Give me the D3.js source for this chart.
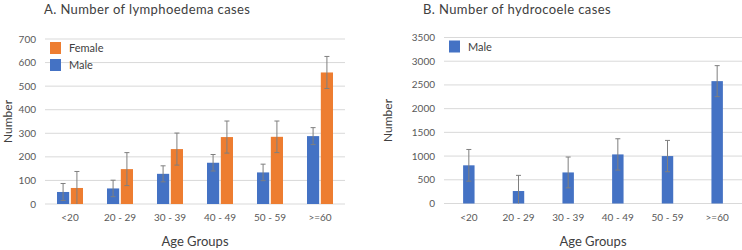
<!DOCTYPE html>
<meta charset="utf-8">
<script src="https://d3js.org/d3.v7.js"></script>
<style>
  body { margin: 0; background: #fff; }
  text { font-family: Lato, "Open Sans", sans-serif; }
</style>
<div id="chart"></div>
<script>
// age groups shared by both panels
var ageGroups = ["<20", "20 - 29", "30 - 39", "40 - 49", "50 - 59", ">=60"]

// panel A: lymphoedema
var lymphMale = [51, 66, 128, 175, 134, 288]
var lymphMaleErr = [36, 35, 34, 35, 35, 36]
var lymphFemale = [68, 148, 233, 284, 285, 558]
var lymphFemaleErr = [70, 70, 68, 68, 67, 68]
var lymphTicks = [0, 100, 200, 300, 400, 500, 600, 700]

// panel B: hydrocoele
var hydroMale = [805, 263, 655, 1035, 1000, 2580]
var hydroMaleErr = [334, 330, 325, 330, 330, 327]
var hydroTicks = [0, 500, 1000, 1500, 2000, 2500, 3000, 3500]

const blue = "#4472C4", orange = "#ED7D31"

const svg = d3.select("#chart").append("svg")
  .attr("width", 742).attr("height", 250)

function panel(opts) {
  const g = svg.append("g")
  const x = d3.scaleBand().domain(ageGroups).range([opts.left, opts.right])
  const y = d3.scaleLinear().domain([0, d3.max(opts.ticks)]).range([opts.bottom, opts.top])

  // gridlines
  g.selectAll(".grid").data(opts.ticks).join("line")
    .attr("x1", opts.left).attr("x2", opts.right)
    .attr("y1", d => y(d)).attr("y2", d => y(d))
    .attr("stroke", "#d9d9d9").attr("stroke-width", 1)

  // y tick labels
  g.selectAll(".ytick").data(opts.ticks).join("text")
    .attr("x", opts.left - 9).attr("y", d => y(d) + 3.5)
    .attr("text-anchor", "end").attr("font-size", 10).attr("fill", "#595959")
    .text(d => d)

  // x tick labels
  g.selectAll(".xtick").data(ageGroups).join("text")
    .attr("x", d => x(d) + x.bandwidth() / 2).attr("y", opts.bottom + 17)
    .attr("text-anchor", "middle").attr("font-size", 10).attr("fill", "#595959")
    .text(d => d)

  // sub-band for series inside each group
  const names = opts.series.map(s => s.name)
  const bw = x.bandwidth()
  const groupW = opts.series.length * 13
  const xs = d3.scaleBand().domain(names)
    .range([bw / 2 - groupW / 2, bw / 2 + groupW / 2]).paddingInner(0.12)

  opts.series.forEach(s => {
    const sg = g.append("g")
    sg.selectAll("rect").data(s.values).join("rect")
      .attr("x", (d, i) => x(ageGroups[i]) + xs(s.name))
      .attr("width", xs.bandwidth())
      .attr("y", d => y(d))
      .attr("height", d => y(0) - y(d))
      .attr("fill", s.color)
    // error bars
    s.values.forEach((v, i) => {
      const cx = x(ageGroups[i]) + xs(s.name) + xs.bandwidth() / 2
      const lo = Math.max(0, v - s.err[i]), hi = v + s.err[i]
      sg.append("line").attr("x1", cx).attr("x2", cx)
        .attr("y1", y(lo)).attr("y2", y(hi))
        .attr("stroke", "#7f7f7f").attr("stroke-width", 1)
      ;[lo, hi].forEach(e => {
        if (e === 0) return
        sg.append("line").attr("x1", cx - 2.5).attr("x2", cx + 2.5)
          .attr("y1", y(e)).attr("y2", y(e))
          .attr("stroke", "#7f7f7f").attr("stroke-width", 1)
      })
    })
  })

  // legend
  opts.legend.forEach((s, i) => {
    const ly = opts.top + 3 + i * 17
    g.append("rect").attr("x", opts.left + 5).attr("y", ly)
      .attr("width", 11).attr("height", 12).attr("fill", s.color)
    g.append("text").attr("x", opts.left + 24).attr("y", ly + 10)
      .attr("font-size", 11).attr("fill", "#404040").text(s.name)
  })

  // titles
  g.append("text").attr("x", opts.titleX).attr("y", 14)
    .attr("font-size", 13).attr("letter-spacing", 0.4)
    .attr("fill", "#404040").text(opts.title)
  g.append("text").attr("x", (opts.left + opts.right) / 2).attr("y", 246)
    .attr("text-anchor", "middle").attr("font-size", 13).attr("fill", "#404040")
    .text("Age Groups")
  g.append("text")
    .attr("transform", `translate(${opts.yLabelX},${(opts.top + opts.bottom) / 2}) rotate(-90)`)
    .attr("text-anchor", "middle").attr("font-size", 12).attr("fill", "#404040")
    .text("Number")
}

panel({
  left: 45, right: 345, top: 39, bottom: 204,
  ticks: lymphTicks,
  series: [
    {name: "Male", values: lymphMale, err: lymphMaleErr, color: blue},
    {name: "Female", values: lymphFemale, err: lymphFemaleErr, color: orange}
  ],
  legend: [{name: "Female", color: orange}, {name: "Male", color: blue}],
  title: "A. Number of lymphoedema cases", titleX: 44, yLabelX: 12
})

panel({
  left: 444, right: 742, top: 37.5, bottom: 203.5,
  ticks: hydroTicks,
  series: [{name: "Male", values: hydroMale, err: hydroMaleErr, color: blue}],
  legend: [{name: "Male", color: blue}],
  title: "B. Number of hydrocoele cases", titleX: 423, yLabelX: 392
})
</script>
